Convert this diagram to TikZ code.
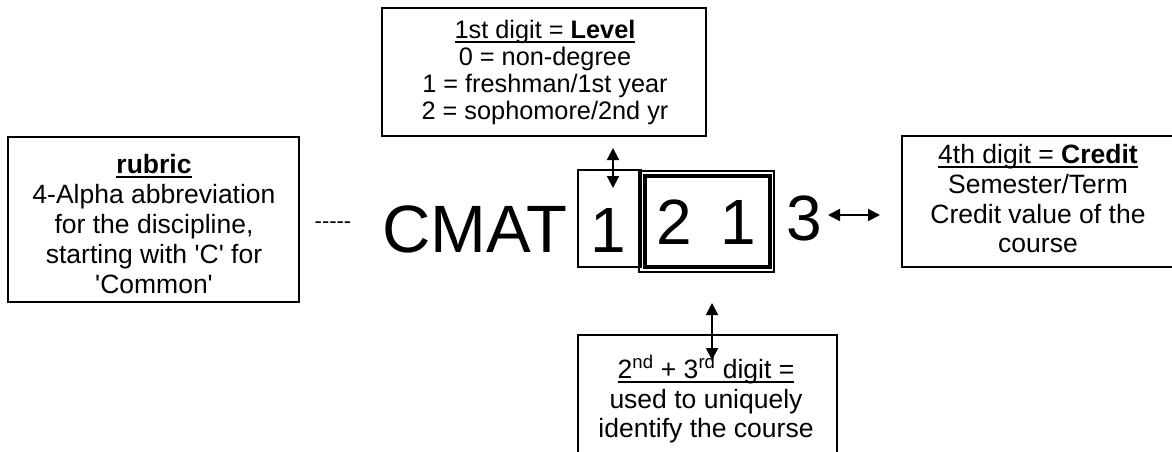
\documentclass[tikz,border=0pt]{standalone}
\usepackage{fontspec}
\setmainfont{Liberation Sans}
\usetikzlibrary{arrows.meta}
\newsavebox\ulinebox
\newcommand\ulin[1]{\sbox\ulinebox{#1}\rlap{\rule[-0.17em]{\wd\ulinebox}{0.075em}}\usebox\ulinebox}
\tikzset{
  box/.style={draw, line width=2pt, inner sep=0pt},
  txt/.style={anchor=base, inner sep=0pt, font=\fontsize{26.5}{30}\selectfont},
  toptxt/.style={anchor=base, inner sep=0pt, font=\fontsize{25.3}{27}\selectfont},
  big/.style={anchor=base, inner sep=0pt, font=\fontsize{64}{70}\selectfont},
  twoway/.style={line width=2pt, {Triangle[width=12pt,length=12pt]}-{Triangle[width=12pt,length=12pt]}}
}
\begin{document}
\begin{tikzpicture}[x=1pt,y=-1pt]
\useasboundingbox (0,0) rectangle (1172,452);

% level box (top)
\node[box, minimum width=324pt, minimum height=128pt] (lvlbox) at (544,72) {};
\node[toptxt] (lvl1) at (545,39) {\ulin{1st digit = \textbf{Level}}};
\node[toptxt] (lvl2) at (545,66) {0 = non-degree};
\node[toptxt] (lvl3) at (545,92.5) {1 = freshman/1st year};
\node[toptxt] (lvl4) at (545,119) {2 = sophomore/2nd yr};

% rubric box (left)
\node[box, minimum width=291pt, minimum height=165pt] (rubbox) at (153.5,219.5) {};
\node[txt] (rub1) at (154,173) {\ulin{\textbf{rubric}}};
\node[txt] (rub2) at (154,203) {4-Alpha abbreviation};
\node[txt] (rub3) at (154,233) {for the discipline,};
\node[txt] (rub4) at (154,263) {starting with \textquotesingle C\textquotesingle{} for};
\node[txt] (rub5) at (154,293) {\textquotesingle Common\textquotesingle};

\node[anchor=base, inner sep=0pt, font=\fontsize{22}{26}\selectfont] (dashes) at (333,228) {-{}-{}-{}-{}-};

% credit box (right)
\node[box, minimum width=272pt, minimum height=131pt] (crbox) at (1038,201.5) {};
\node[txt] (cr1) at (1038,163.5) {\ulin{4th digit = \textbf{Credit}}};
\node[txt] (cr2) at (1038,193.5) {Semester/Term};
\node[txt] (cr3) at (1038,223) {Credit value of the};
\node[txt] (cr4) at (1038,252.5) {course};

% course box (bottom)
\node[box, minimum width=259pt, minimum height=135pt] (idbox) at (707.5,402.5) {};
\node[txt] (id1) at (706,378) {\ulin{2\textsuperscript{nd} + 3\textsuperscript{rd} digit =}};
\node[txt] (id2) at (706,408) {used to uniquely};
\node[txt] (id3) at (706,437) {identify the course};

% course number
\node[big, anchor=base west, font=\fontsize{67}{72}\selectfont] (cmat) at (382,252) {CMAT};
\node[draw, line width=1.8pt, inner sep=0pt, minimum width=63pt, minimum height=97pt] (d1box) at (609.5,218.5) {};
\node[draw, line width=1.3pt, inner sep=0pt, minimum width=135pt, minimum height=101pt] (d23out) at (706.5,221.5) {};
\node[draw, line width=3.5pt, inner sep=0pt, minimum width=125pt, minimum height=91pt] (d23in) at (707.5,221.5) {};
\node[big] (dig1) at (608,252) {1};
\node[big] (dig2) at (674,244) {2};
\node[big] (dig3) at (738,244) {1};
\node[big] (dig4) at (804,240) {3};

% connectors
\coordinate (lvlA) at (613,148);
\coordinate (lvlB) at (613,188);
\draw[twoway] (lvlA) -- (lvlB);
\coordinate (idA) at (712,303);
\coordinate (idB) at (712,360);
\draw[twoway] (idA) -- (idB);
\coordinate (crA) at (828,215);
\coordinate (crB) at (880,215);
\draw[twoway] (crA) -- (crB);
\end{tikzpicture}
\end{document}
